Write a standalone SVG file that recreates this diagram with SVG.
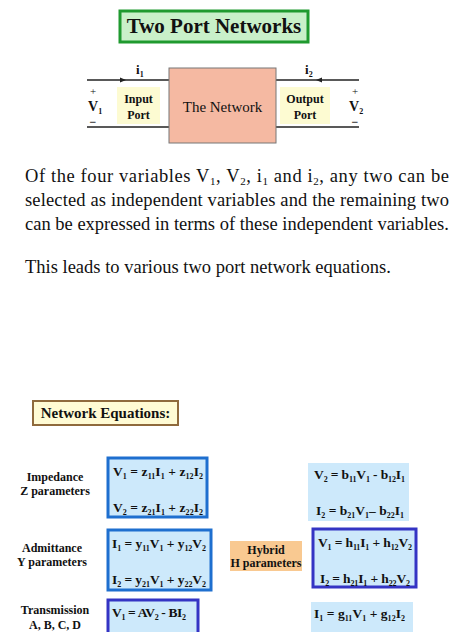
<svg xmlns="http://www.w3.org/2000/svg" width="474" height="632" viewBox="0 0 474 632">
<style>
text{font-family:"Liberation Serif","Times New Roman",serif;fill:#111}
.b{font-weight:bold}
.eq{font-weight:bold;font-size:13.5px}
.lab{font-weight:bold;font-size:12px;text-anchor:middle}
.p{font-size:18.5px}
.s{font-size:8px}
.ps{font-size:11px}
.wire{stroke:#222;stroke-width:1.5;fill:none}
.zb{fill:#cde9fb;stroke:#1e6fcf;stroke-width:3}
.pb{fill:#cde9fb;stroke:#3434c4;stroke-width:3}
.nb{fill:#cde9fb}
</style>
<rect width="474" height="632" fill="#fff"/>
<g id="title">
<rect x="120" y="11" width="188" height="31" fill="#c9f0c9" stroke="#1f9a2f" stroke-width="3"/>
<text x="214" y="33" class="b" font-size="21" text-anchor="middle">Two Port Networks</text>
</g>
<g id="connectors">
<line class="wire" x1="87" y1="80" x2="169" y2="80"/>
<line class="wire" x1="87" y1="127" x2="169" y2="127"/>
<line class="wire" x1="276" y1="80" x2="359" y2="80"/>
<line class="wire" x1="276" y1="127" x2="359" y2="127"/>
<path d="M126 80 L120 77.5 L120 82.5 Z" fill="#222"/>
<path d="M316 80 L322 77.5 L322 82.5 Z" fill="#222"/>
</g>
<g id="network">
<rect x="169" y="68" width="107" height="75" fill="#f5b9a2" stroke="#777" stroke-width="1"/>
<text x="222.5" y="112" font-size="15" text-anchor="middle">The Network</text>
</g>
<g id="input-port">
<rect x="117" y="87" width="43" height="37" fill="#fdfbd2"/>
<text x="138.5" y="103" class="lab" font-size="13">Input</text>
<text x="138.5" y="119" class="lab" font-size="13">Port</text>
</g>
<g id="output-port">
<rect x="280" y="87" width="50" height="37" fill="#fdfbd2"/>
<text x="305" y="103" class="lab" font-size="13">Output</text>
<text x="305" y="119" class="lab" font-size="13">Port</text>
</g>
<g id="labels">
<text x="136" y="74" class="b" font-size="13">i<tspan class="s" dy="3">1</tspan></text>
<text x="305" y="74" class="b" font-size="13">i<tspan class="s" dy="3">2</tspan></text>
<text x="93" y="95" font-size="11" text-anchor="middle">+</text>
<text x="88" y="111" class="b" font-size="14">V<tspan class="s" dy="3">1</tspan></text>
<text x="93" y="126" class="b" font-size="12" text-anchor="middle">−</text>
<text x="355" y="95" font-size="11" text-anchor="middle">+</text>
<text x="349" y="111" class="b" font-size="14">V<tspan class="s" dy="3">2</tspan></text>
<text x="355" y="126" class="b" font-size="12" text-anchor="middle">−</text>
</g>
<g id="paragraph">
<text x="25" y="182" class="p" textLength="424" lengthAdjust="spacing">Of the four variables V<tspan class="ps" dy="3">1</tspan><tspan dy="-3">, V</tspan><tspan class="ps" dy="3">2</tspan><tspan dy="-3">, i</tspan><tspan class="ps" dy="3">1</tspan><tspan dy="-3"> and i</tspan><tspan class="ps" dy="3">2</tspan><tspan dy="-3">,  any two can be</tspan></text>
<text x="25" y="206" class="p" textLength="424" lengthAdjust="spacing">selected as independent variables and the remaining two</text>
<text x="25" y="230" class="p">can be expressed in terms of these independent variables.</text>
<text x="25" y="273" class="p">This leads to various two port network equations.</text>
</g>
<g id="network-equations">
<rect x="33" y="401" width="145" height="24" fill="#fffbd4" stroke="#8f6a3c" stroke-width="2"/>
<text x="105.5" y="418" class="b" font-size="15" text-anchor="middle">Network Equations:</text>
</g>
<g id="z-params">
<text x="55" y="481" class="lab">Impedance</text>
<text x="55" y="495" class="lab">Z parameters</text>
<rect class="zb" x="108" y="458" width="99" height="59"/>
<text x="113" y="476" class="eq" textLength="90" lengthAdjust="spacing">V<tspan class="s" dy="3">1</tspan><tspan dy="-3"> = z</tspan><tspan class="s" dy="3">11</tspan><tspan dy="-3">I</tspan><tspan class="s" dy="3">1</tspan><tspan dy="-3"> + z</tspan><tspan class="s" dy="3">12</tspan><tspan dy="-3">I</tspan><tspan class="s" dy="3">2</tspan></text>
<text x="113" y="512" class="eq" textLength="90" lengthAdjust="spacing">V<tspan class="s" dy="3">2</tspan><tspan dy="-3"> = z</tspan><tspan class="s" dy="3">21</tspan><tspan dy="-3">I</tspan><tspan class="s" dy="3">1</tspan><tspan dy="-3">  + z</tspan><tspan class="s" dy="3">22</tspan><tspan dy="-3">I</tspan><tspan class="s" dy="3">2</tspan></text>
</g>
<g id="y-params">
<text x="52" y="552" class="lab">Admittance</text>
<text x="52" y="566" class="lab">Y parameters</text>
<rect class="zb" x="108" y="530" width="103" height="60"/>
<text x="112" y="548" class="eq" textLength="94" lengthAdjust="spacing">I<tspan class="s" dy="3">1</tspan><tspan dy="-3"> = y</tspan><tspan class="s" dy="3">11</tspan><tspan dy="-3">V</tspan><tspan class="s" dy="3">1</tspan><tspan dy="-3"> + y</tspan><tspan class="s" dy="3">12</tspan><tspan dy="-3">V</tspan><tspan class="s" dy="3">2</tspan></text>
<text x="112" y="584" class="eq" textLength="94" lengthAdjust="spacing">I<tspan class="s" dy="3">2</tspan><tspan dy="-3"> = y</tspan><tspan class="s" dy="3">21</tspan><tspan dy="-3">V</tspan><tspan class="s" dy="3">1</tspan><tspan dy="-3"> + y</tspan><tspan class="s" dy="3">22</tspan><tspan dy="-3">V</tspan><tspan class="s" dy="3">2</tspan></text>
</g>
<g id="abcd-params">
<text x="55" y="614" class="lab">Transmission</text>
<text x="55" y="629" class="lab">A, B, C, D</text>
<rect class="pb" x="108" y="600" width="90" height="40"/>
<text x="112" y="617" class="eq" textLength="74" lengthAdjust="spacing">V<tspan class="s" dy="3">1</tspan><tspan dy="-3"> = AV</tspan><tspan class="s" dy="3">2</tspan><tspan dy="-3"> - BI</tspan><tspan class="s" dy="3">2</tspan></text>
</g>
<g id="b-params">
<rect class="nb" x="308" y="463" width="101" height="58"/>
<text x="314" y="479" class="eq" textLength="91" lengthAdjust="spacing">V<tspan class="s" dy="3">2</tspan><tspan dy="-3"> = b</tspan><tspan class="s" dy="3">11</tspan><tspan dy="-3">V</tspan><tspan class="s" dy="3">1</tspan><tspan dy="-3"> - b</tspan><tspan class="s" dy="3">12</tspan><tspan dy="-3">I</tspan><tspan class="s" dy="3">1</tspan></text>
<text x="316" y="515" class="eq" textLength="88" lengthAdjust="spacing">I<tspan class="s" dy="3">2</tspan><tspan dy="-3"> = b</tspan><tspan class="s" dy="3">21</tspan><tspan dy="-3">V</tspan><tspan class="s" dy="3">1</tspan><tspan dy="-3">– b</tspan><tspan class="s" dy="3">22</tspan><tspan dy="-3">I</tspan><tspan class="s" dy="3">1</tspan></text>
</g>
<g id="h-params">
<rect x="230" y="541" width="72" height="30" fill="#f9c991"/>
<text x="266" y="554" class="lab" font-size="11">Hybrid</text>
<text x="266" y="567" class="lab" font-size="11">H parameters</text>
<rect class="pb" x="313" y="529" width="103" height="58"/>
<text x="318" y="547" class="eq" textLength="94" lengthAdjust="spacing">V<tspan class="s" dy="3">1</tspan><tspan dy="-3"> = h</tspan><tspan class="s" dy="3">11</tspan><tspan dy="-3">I</tspan><tspan class="s" dy="3">1</tspan><tspan dy="-3"> + h</tspan><tspan class="s" dy="3">12</tspan><tspan dy="-3">V</tspan><tspan class="s" dy="3">2</tspan></text>
<text x="320" y="583" class="eq" textLength="90" lengthAdjust="spacing">I<tspan class="s" dy="3">2</tspan><tspan dy="-3"> = h</tspan><tspan class="s" dy="3">21</tspan><tspan dy="-3">I</tspan><tspan class="s" dy="3">1</tspan><tspan dy="-3"> + h</tspan><tspan class="s" dy="3">22</tspan><tspan dy="-3">V</tspan><tspan class="s" dy="3">2</tspan></text>
</g>
<g id="g-params">
<rect class="nb" x="311" y="602" width="102" height="30"/>
<text x="314" y="618" class="eq" textLength="91" lengthAdjust="spacing">I<tspan class="s" dy="3">1</tspan><tspan dy="-3"> = g</tspan><tspan class="s" dy="3">11</tspan><tspan dy="-3">V</tspan><tspan class="s" dy="3">1</tspan><tspan dy="-3"> + g</tspan><tspan class="s" dy="3">12</tspan><tspan dy="-3">I</tspan><tspan class="s" dy="3">2</tspan></text>
</g>
</svg>
